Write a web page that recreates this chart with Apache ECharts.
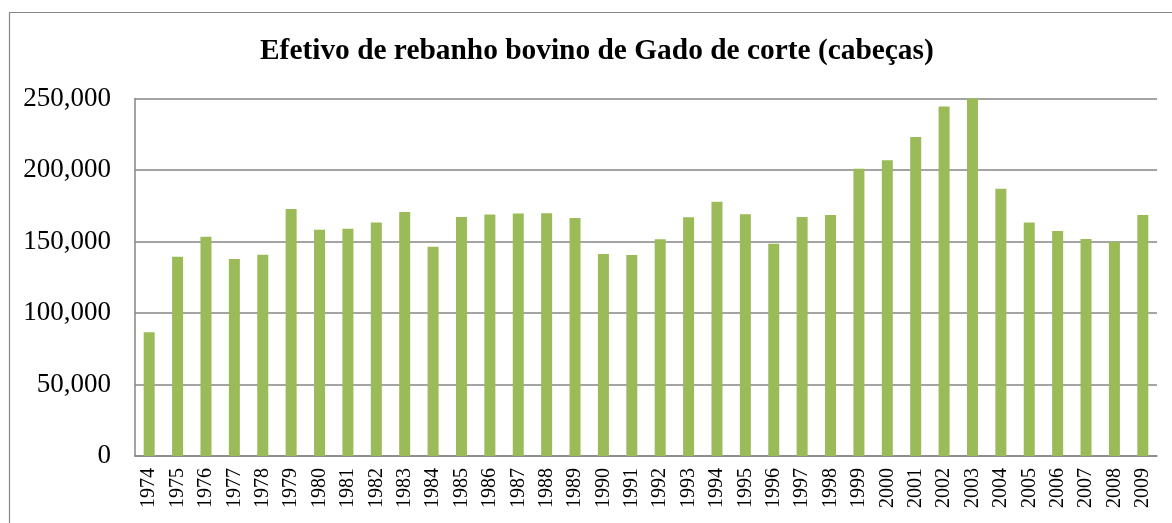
<!DOCTYPE html>
<html>
<head>
<meta charset="utf-8">
<script src="https://cdn.jsdelivr.net/npm/echarts@6/dist/echarts.min.js"></script>
<style>
html,body{margin:0;padding:0;background:#fff;}
#c{width:1172px;height:523px;}
</style>
</head>
<body>
<div id="c"></div>
<script>
const titleText = 'Efetivo de rebanho bovino de Gado de corte (cabeças)';
const years = ['1974','1975','1976','1977','1978','1979','1980','1981','1982','1983','1984','1985','1986','1987','1988','1989','1990','1991','1992','1993','1994','1995','1996','1997','1998','1999','2000','2001','2002','2003','2004','2005','2006','2007','2008','2009'];
const heads = [86600,139400,153400,137800,140800,172700,158300,159000,163200,170600,146400,167100,168800,169500,169700,166400,141300,140600,151500,166900,177800,169000,148500,167100,168500,200900,206900,223000,244400,250000,186900,163200,157400,151800,149900,168500];
const yMin = 0, yMax = 250000, yStep = 50000;

const chart = echarts.init(document.getElementById('c'), null, {renderer:'canvas'});
const serif = '"Liberation Serif","Times New Roman",serif';
chart.setOption({
  animation:false,
  backgroundColor:'#ffffff',
  graphic:[{
    type:'rect', left:7, top:10, z:-1,
    shape:{x:0,y:0,width:1300,height:700},
    style:{fill:'none',stroke:'#888888',lineWidth:1.2}
  }],
  title:{
    text:titleText, left:255, top:32,
    textStyle:{fontFamily:serif,fontWeight:'bold',fontSize:29.4,color:'#000'}
  },
  grid:{left:135,right:15,top:98.5,bottom:67,containLabel:false},
  xAxis:{
    type:'category', data:years,
    axisLine:{show:true,lineStyle:{color:'#868686',width:1.5}},
    axisTick:{show:false},
    axisLabel:{rotate:90,interval:0,margin:12,fontFamily:serif,fontSize:20,color:'#000'}
  },
  yAxis:{
    type:'value', min:yMin, max:yMax, interval:yStep,
    axisLine:{show:true,lineStyle:{color:'#868686',width:1.5}},
    axisTick:{show:false},
    splitLine:{show:true,lineStyle:{color:'#868686',width:1.5}},
    axisLabel:{margin:24,fontFamily:serif,fontSize:27,color:'#000',
      formatter:v=>v.toString().replace(/\B(?=(\d{3})+(?!\d))/g,',')}
  },
  series:[{
    type:'bar', data:heads, barWidth:11,
    itemStyle:{color:'#9BBB59'}
  }]
});
</script>
</body>
</html>
